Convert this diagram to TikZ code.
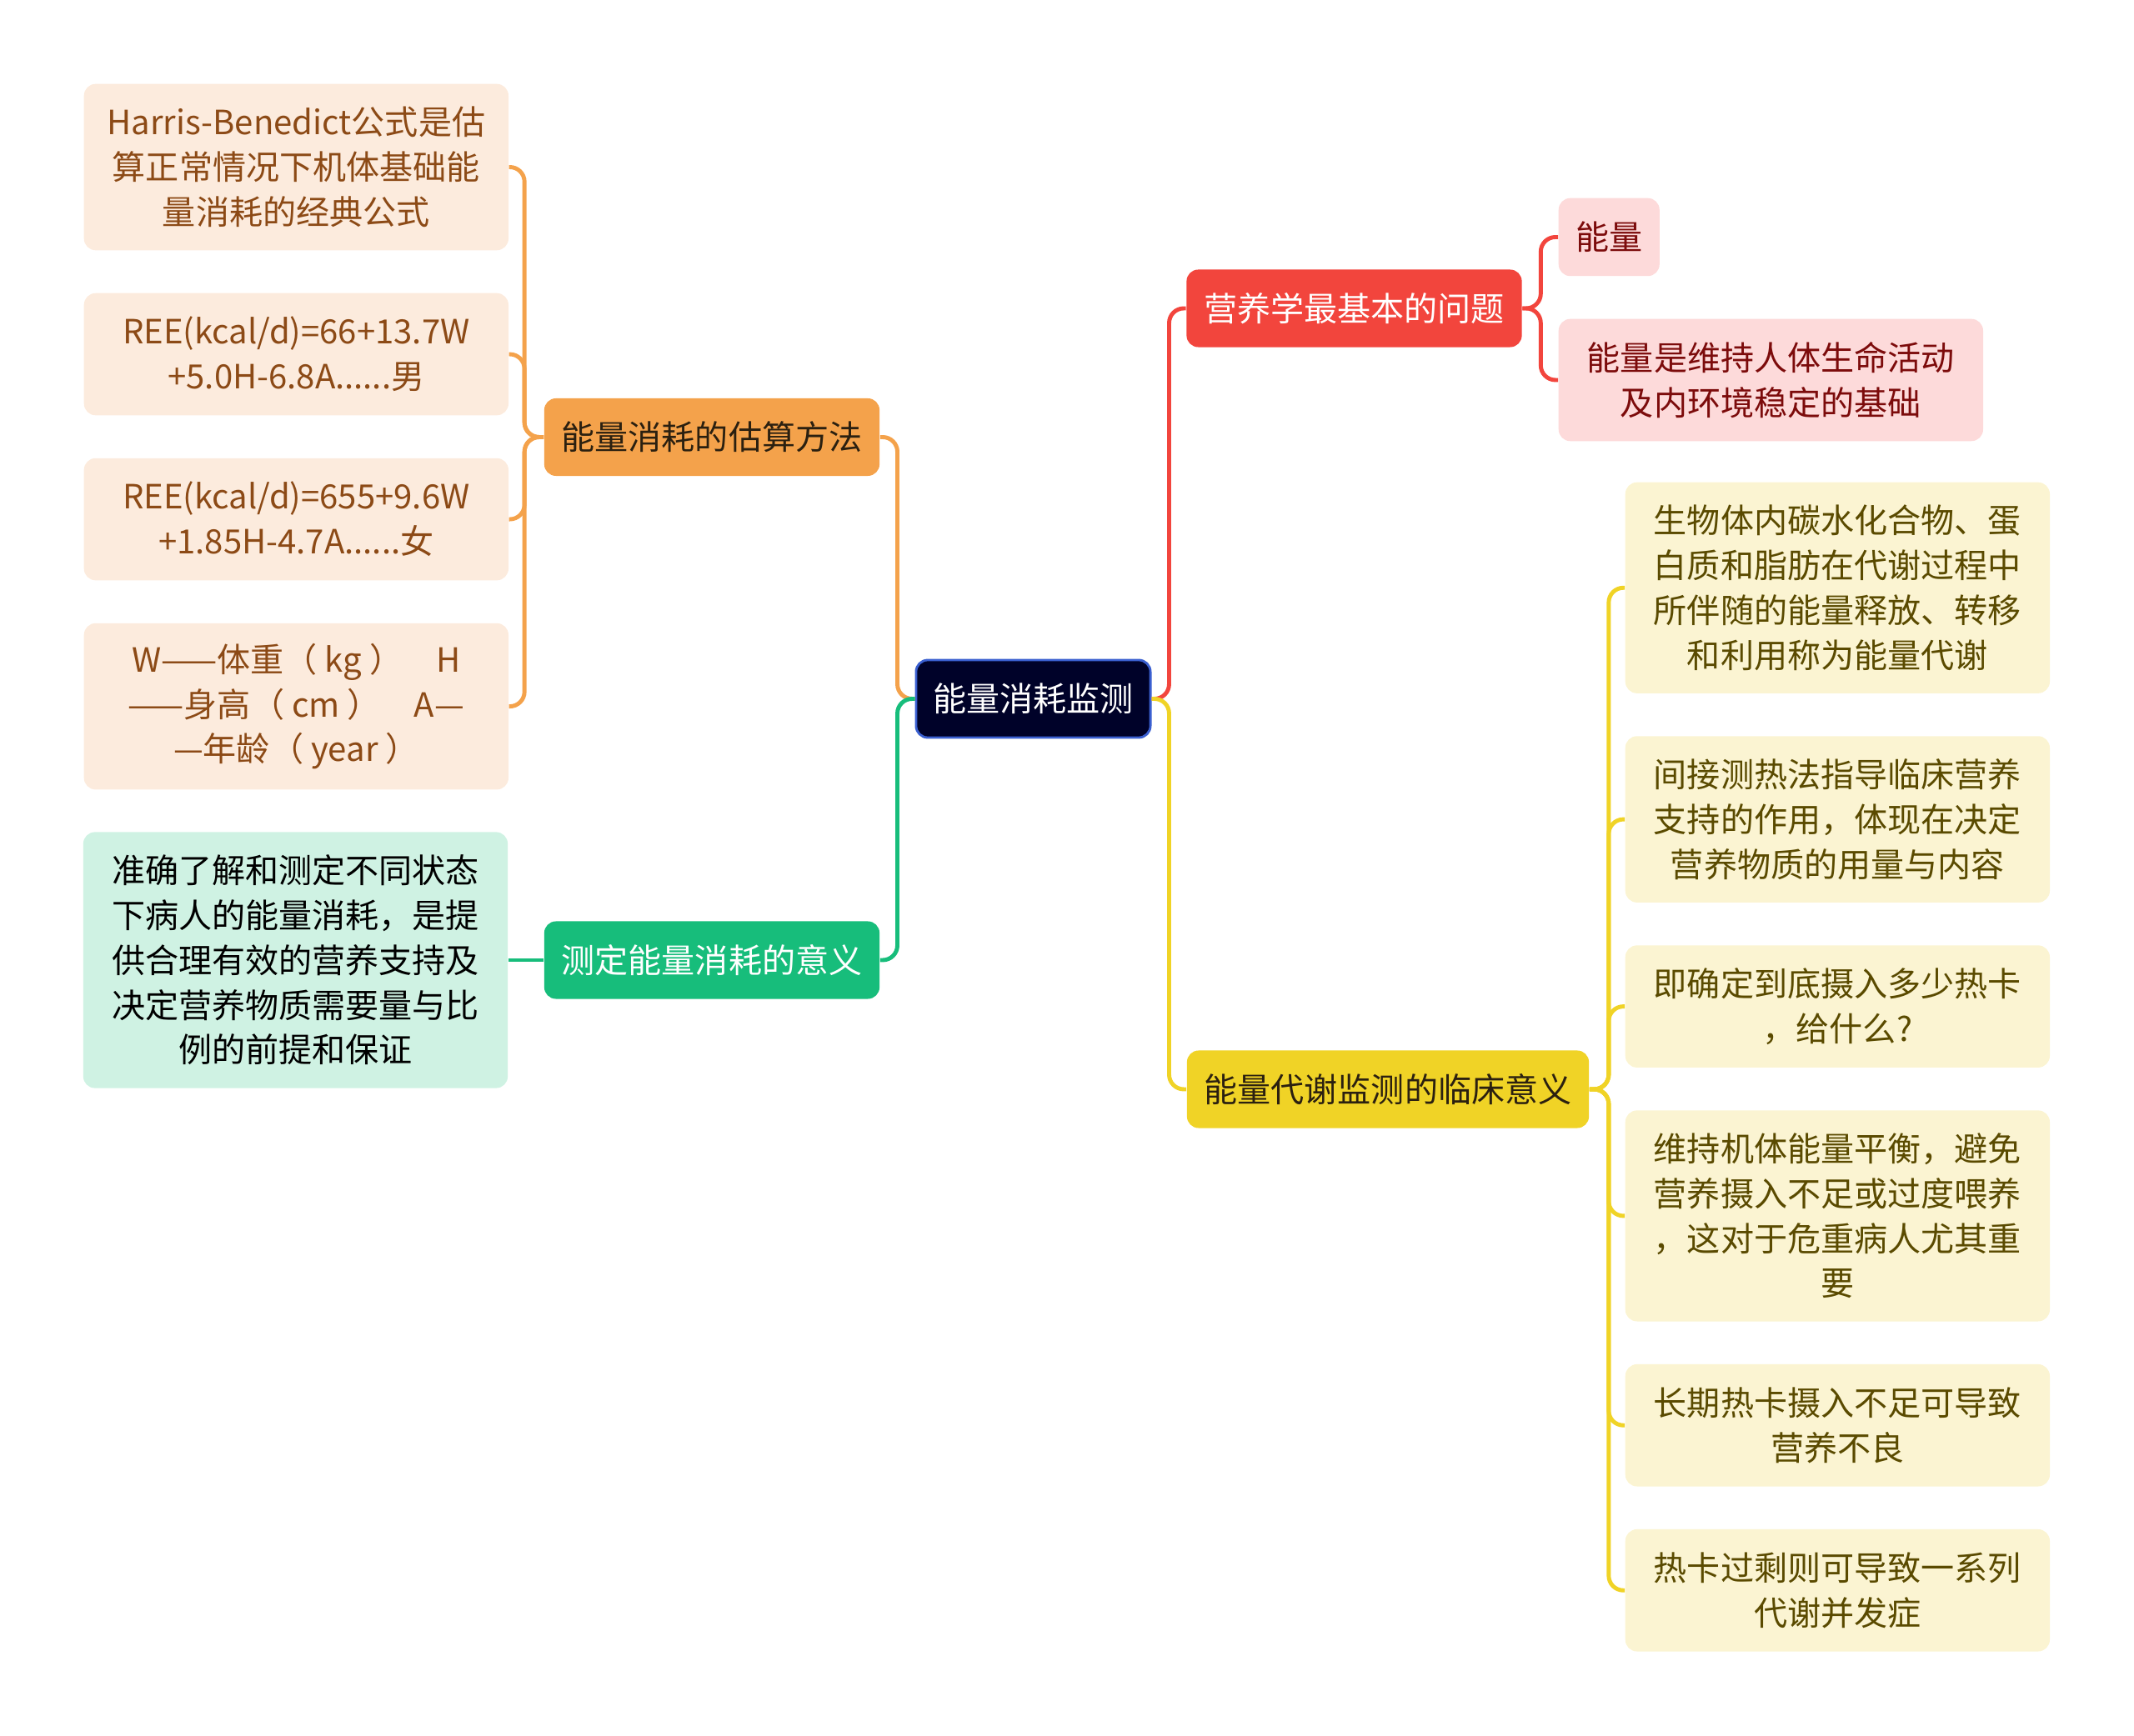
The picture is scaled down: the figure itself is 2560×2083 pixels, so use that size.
\documentclass[tikz,border=0pt]{standalone}
\usepackage{fontspec}
\newfontfamily\cjkfont{Noto Sans CJK SC}
\usetikzlibrary{positioning}
\definecolor{rootfill}{HTML}{000229}
\definecolor{rootdraw}{HTML}{3A5FD0}
\definecolor{cOrange}{HTML}{F4A24B}
\definecolor{cGreen}{HTML}{17BD7B}
\definecolor{cRed}{HTML}{F2453D}
\definecolor{cYellow}{HTML}{F0D326}
\definecolor{peach}{HTML}{FCEBDD}
\definecolor{mint}{HTML}{CFF2E3}
\definecolor{pink}{HTML}{FDDADA}
\definecolor{cream}{HTML}{FBF4D2}
\definecolor{tBrown}{HTML}{8C4A16}
\definecolor{tDark}{HTML}{2B2010}
\definecolor{tMaroon}{HTML}{7C0B0B}
\definecolor{tOlive}{HTML}{5A4A00}
\tikzset{
    base/.style = {
        rectangle, rounded corners=4pt, align=center, inner sep=2pt,
        font=\cjkfont\fontsize{11.4pt}{15.3pt}\selectfont
    },
    % Topics
    rootnode/.style = {base, fill=rootfill, draw=rootdraw, line width=0.8pt, text=white, minimum width=2.81cm, minimum height=0.93cm},
    topic/.style    = {base, minimum width=4.02cm, minimum height=0.93cm},
    % Leaves
    leaf/.style     = {base, minimum width=5.09cm},
    lines2/.style   = {minimum height=1.465cm},
    lines3/.style   = {minimum height=1.995cm},
    lines4/.style   = {minimum height=2.53cm},
    lines5/.style   = {minimum height=3.07cm},
    % Connectors
    link/.style = {line width=1.4pt, rounded corners=5pt}
}
\begin{document}
\begin{tikzpicture}[x=0.01cm, y=-0.01cm]
    \useasboundingbox (0,0) rectangle (2560,2083);

    \node (root) [rootnode] at (1239.5,838.5) {能量消耗监测};

    \node (est) [topic, fill=cOrange, text=tDark] at (854,524.5) {能量消耗的估算方法};
    \node (sig) [topic, fill=cGreen, text=white] at (854,1152) {测定能量消耗的意义};
    \node (basic) [topic, fill=cRed, text=white] at (1624.5,370) {营养学最基本的问题};
    \node (clin) [topic, fill=cYellow, text=tDark, minimum width=4.82cm] at (1665,1307) {能量代谢监测的临床意义};

    % left leaves
    \node (L1) [leaf, lines3, fill=peach, text=tBrown, anchor=north west] at (100,100) {Harris-Benedict公式是估\\算正常情况下机体基础能\\量消耗的经典公式};
    \node (L2) [leaf, lines2, fill=peach, text=tBrown, below=0.5cm of L1] {REE(kcal/d)=66+13.7W\\+5.0H-6.8A......男};
    \node (L3) [leaf, lines2, fill=peach, text=tBrown, below=0.5cm of L2] {REE(kcal/d)=655+9.6W\\+1.85H-4.7A......女};
    \node (L4) [leaf, lines3, fill=peach, text=tBrown, below=0.5cm of L3] {W——体重（ kg ）\hspace{1em}H\\——身高（ cm ）\hspace{1em}A—\\—年龄（ year ）};
    \node (G1) [leaf, lines5, fill=mint, text=black] at (354.5,1152) {准确了解和测定不同状态\\下病人的能量消耗，是提\\供合理有效的营养支持及\\决定营养物质需要量与比\\例的前提和保证};

    % right leaves
    \node (R1) [base, fill=pink, text=tMaroon, minimum width=1.21cm, minimum height=0.935cm, anchor=north west] at (1869,237) {能量};
    \node (R2) [leaf, lines2, fill=pink, text=tMaroon, below=0.5cm of R1.south west, anchor=north west] {能量是维持人体生命活动\\及内环境稳定的基础};

    \node (Y1) [leaf, lines4, fill=cream, text=tOlive, anchor=north west] at (1949,578) {生物体内碳水化合物、蛋\\白质和脂肪在代谢过程中\\所伴随的能量释放、转移\\和利用称为能量代谢};
    \node (Y2) [leaf, lines3, fill=cream, text=tOlive, below=0.5cm of Y1] {间接测热法指导临床营养\\支持的作用，体现在决定\\营养物质的用量与内容};
    \node (Y3) [leaf, lines2, fill=cream, text=tOlive, below=0.5cm of Y2] {即确定到底摄入多少热卡\\，给什么?};
    \node (Y4) [leaf, lines4, fill=cream, text=tOlive, below=0.5cm of Y3] {维持机体能量平衡，避免\\营养摄入不足或过度喂养\\，这对于危重病人尤其重\\要};
    \node (Y5) [leaf, lines2, fill=cream, text=tOlive, below=0.5cm of Y4] {长期热卡摄入不足可导致\\营养不良};
    \node (Y6) [leaf, lines2, fill=cream, text=tOlive, below=0.5cm of Y5] {热卡过剩则可导致一系列\\代谢并发症};

    % main branches
    \draw [link, cOrange] (root.west) -- ++(-21,0) |- (est.east);
    \draw [link, cGreen] (root.west) -- ++(-21,0) |- (sig.east);
    \draw [link, cRed] (root.east) -- ++(21,0) |- (basic.west);
    \draw [link, cYellow] (root.east) -- ++(21,0) |- (clin.west);

    % sub branches
    \foreach \leafname in {L1,L2,L3,L4}
        \draw [link, cOrange] (est.west) -- ++(-23,0) |- (\leafname.east);
    \draw [link, cGreen] (sig.west) -- (G1.east);
    \foreach \leafname in {R1,R2}
        \draw [link, cRed] (basic.east) -- ++(22,0) |- (\leafname.west);
    \foreach \leafname in {Y1,Y2,Y3,Y4,Y5,Y6}
        \draw [link, cYellow] (clin.east) -- ++(23,0) |- (\leafname.west);
\end{tikzpicture}
\end{document}
